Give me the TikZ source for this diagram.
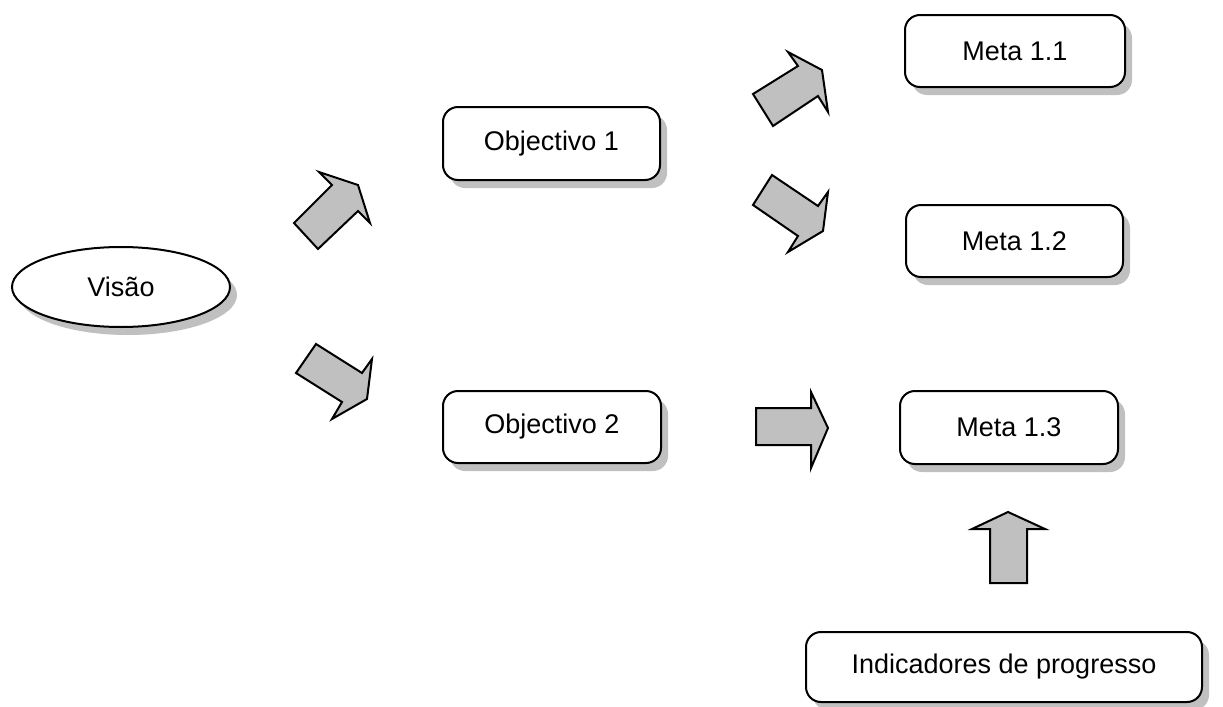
\documentclass[tikz,border=0pt]{standalone}
\usepackage{fontspec}
\setmainfont{Liberation Sans}
\usetikzlibrary{shapes.geometric,shadows}
\definecolor{shade}{HTML}{C0C0C0}
\definecolor{arrowfill}{HTML}{C0C0C0}
\tikzset{
  shd/.style={general shadow={fill=shade, shadow xshift=3.5pt, shadow yshift=-4pt}},
  box/.style={shd, draw=black, fill=white, line width=1pt, rounded corners=7.5pt,
    inner sep=0pt, font=\fontsize{13.5}{16}\selectfont},
  oval/.style={shd, ellipse, draw=black, fill=white, line width=1pt,
    inner sep=0pt, font=\fontsize{13.5}{16}\selectfont},
  blockarrow/.style={draw=black, fill=arrowfill, line width=1pt, line join=miter}
}
\begin{document}
\begin{tikzpicture}[x=0.5pt,y=-0.5pt]
\useasboundingbox (0,0) rectangle (1223,707);
\fill[white] (0,0) rectangle (1223,707);
% nodes
\node[oval, minimum width=109pt, minimum height=40pt] (visao) at (121,287) {Vis\~ao};
\node[box, minimum width=108.5pt, minimum height=36.5pt] (obj1) at (551.5,143.5) {Objectivo 1};
\node[box, minimum width=109pt, minimum height=36pt] (obj2) at (552,427) {Objectivo 2};
\node[box, minimum width=110pt, minimum height=36pt] (m11) at (1015,51) {Meta 1.1};
\node[box, minimum width=108.5pt, minimum height=36pt] (m12) at (1014.5,241) {Meta 1.2};
\node[box, minimum width=109pt, minimum height=36.5pt] (m13) at (1009,427.5) {Meta 1.3};
\node[box, minimum width=198pt, minimum height=35pt] (ind) at (1004,667) {Indicadores de progresso};
% block arrows
\draw[blockarrow] (294,223) -- (332,185) -- (319,172) -- (358,185) -- (370,223) -- (358,211) -- (318,249) -- cycle;
\draw[blockarrow] (316,344) -- (362,373) -- (372,359) -- (367,399) -- (332,419) -- (342,402) -- (296,373) -- cycle;
\draw[blockarrow] (753,94) -- (798,66) -- (788,52) -- (822,70) -- (828,112) -- (818,96) -- (773,126) -- cycle;
\draw[blockarrow] (772,175) -- (818,206) -- (828,192) -- (823,231) -- (788,252) -- (798,236) -- (753,205) -- cycle;
\draw[blockarrow] (756,408) -- (811,408) -- (811,392) -- (828,428) -- (811,468) -- (811,445) -- (756,445) -- cycle;
\draw[blockarrow] (990,583) -- (990,529) -- (972,529) -- (1008,512) -- (1045,529) -- (1027,529) -- (1027,583) -- cycle;
\end{tikzpicture}
\end{document}
